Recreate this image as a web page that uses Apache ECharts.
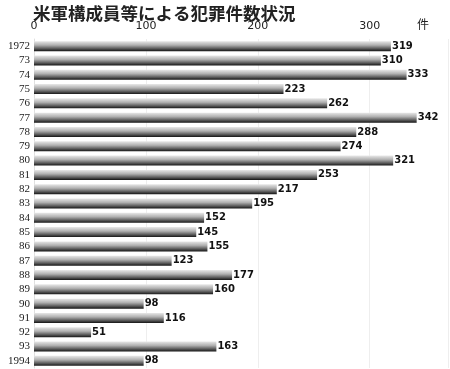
<!DOCTYPE html>
<html><head><meta charset="utf-8">
<script src="https://cdn.jsdelivr.net/npm/echarts@6/dist/echarts.min.js"></script>
<style>html,body{margin:0;padding:0;background:#fff}#c{width:450px;height:369px}</style>
</head><body><div id="c"></div>
<script>
const categories = ['1972','73','74','75','76','77','78','79','80','81','82','83','84','85','86','87','88','89','90','91','92','93','1994'];
const values = [319,310,333,223,262,342,288,274,321,253,217,195,152,145,155,123,177,160,98,116,51,163,98];
const xTicks = [0,100,200,300];
const titleText = '米軍構成員等による犯罪件数状況';
const unitText = '件';

const chart = echarts.init(document.getElementById('c'), null, {renderer:'canvas'});
chart.setOption({
  animation:false,
  backgroundColor:'#fff',
  title:{text:titleText,left:28,top:0,textStyle:{fontFamily:'Noto Sans CJK JP',fontSize:17.5,fontWeight:'bold',color:'#222'}},
  graphic:[{type:'text',left:417,top:18,style:{text:unitText,font:'12px "Noto Sans CJK JP"',fill:'#222'}}],
  grid:{left:34,right:2,top:39,bottom:1},
  xAxis:{type:'value',position:'top',min:0,max:370,interval:100,
    axisLine:{show:false},axisTick:{show:false},
    axisLabel:{showMaxLabel:false,margin:7,fontSize:11,fontFamily:'DejaVu Sans',color:'#222',
      formatter:v=>xTicks.includes(v)?String(v):''},
    splitLine:{show:true,lineStyle:{color:'#eeeeee',width:1}}},
  yAxis:{type:'category',data:categories,inverse:true,
    axisLine:{show:true,lineStyle:{color:'#e0e0e0'}},axisTick:{show:false},
    axisLabel:{margin:4,fontSize:11,fontFamily:'Liberation Serif',color:'#222'}},
  series:[{type:'bar',data:values,barWidth:10,
    itemStyle:{color:new echarts.graphic.LinearGradient(0,0,0,1,[
      {offset:0,color:'#e8e8e8'},{offset:0.4,color:'#b0b0b0'},{offset:0.75,color:'#5a5a5a'},{offset:1,color:'#151515'}])},
    label:{show:true,position:'right',distance:1,fontSize:10,fontWeight:'bold',fontFamily:'DejaVu Sans',color:'#111'}}]
});
</script></body></html>
